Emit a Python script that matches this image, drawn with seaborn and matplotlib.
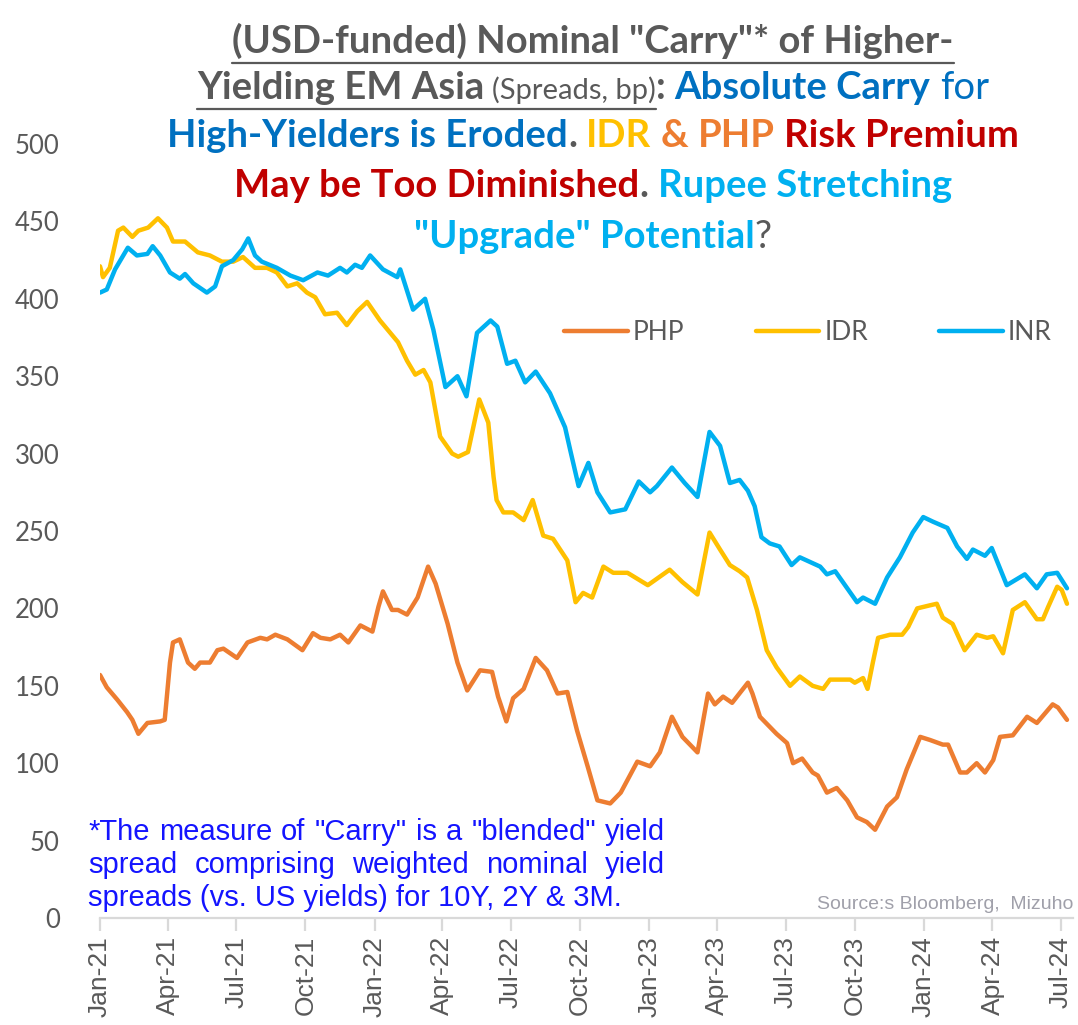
import pandas as pd
import seaborn as sns
import matplotlib.pyplot as plt
import matplotlib.dates as mdates
from matplotlib.lines import Line2D

W, H = 1078, 1025

# PHP carry (bp)
php_dates = ["2021-01-01", "2021-01-10", "2021-01-24", "2021-02-06", "2021-02-13", "2021-02-21",
             "2021-03-05", "2021-03-22", "2021-03-28", "2021-04-04", "2021-04-08", "2021-04-17",
             "2021-04-28", "2021-05-07", "2021-05-14", "2021-05-27", "2021-06-06", "2021-06-14",
             "2021-07-02", "2021-07-16", "2021-08-02", "2021-08-11", "2021-08-22", "2021-09-07",
             "2021-09-27", "2021-10-11", "2021-10-21", "2021-11-03", "2021-11-16", "2021-11-27",
             "2021-12-13", "2021-12-29", "2022-01-06", "2022-01-12", "2022-01-24", "2022-02-01",
             "2022-02-13", "2022-02-27", "2022-03-13", "2022-03-23", "2022-04-08", "2022-04-21",
             "2022-05-04", "2022-05-21", "2022-06-06", "2022-06-14", "2022-06-25", "2022-07-04",
             "2022-07-18", "2022-08-03", "2022-08-18", "2022-09-01", "2022-09-14", "2022-09-27",
             "2022-10-11", "2022-10-24", "2022-11-10", "2022-11-24", "2022-12-16", "2023-01-02",
             "2023-01-15", "2023-01-31", "2023-02-14", "2023-03-06", "2023-03-20", "2023-03-29",
             "2023-04-09", "2023-04-21", "2023-05-12", "2023-05-18", "2023-05-28", "2023-06-19",
             "2023-07-03", "2023-07-11", "2023-07-23", "2023-08-06", "2023-08-13", "2023-08-25",
             "2023-09-07", "2023-09-21", "2023-10-04", "2023-10-17", "2023-10-28", "2023-11-13",
             "2023-11-26", "2023-12-09", "2023-12-27", "2024-01-09", "2024-01-26", "2024-02-02",
             "2024-02-18", "2024-02-27", "2024-03-11", "2024-03-22", "2024-04-02", "2024-04-11",
             "2024-04-28", "2024-05-17", "2024-05-30", "2024-06-20", "2024-06-27", "2024-07-09"]
php_bp = [157, 149, 141, 133, 128, 119,
          126, 127, 128, 165, 178, 180,
          165, 161, 165, 165, 173, 174,
          168, 178, 181, 180, 183, 180,
          173, 184, 181, 180, 183, 178,
          189, 185, 201, 211, 199, 199,
          196, 207, 227, 216, 190, 165,
          147, 160, 159, 143, 127, 142,
          148, 168, 160, 145, 146, 121,
          98, 76, 74, 81, 101, 98,
          107, 130, 117, 107, 145, 138,
          143, 139, 152, 145, 130, 119,
          113, 100, 103, 94, 92, 81,
          84, 76, 65, 62, 57, 72,
          78, 96, 117, 115, 112, 112,
          94, 94, 100, 94, 102, 117,
          118, 130, 126, 138, 136, 128]

# IDR carry (bp)
idr_dates = ["2021-01-01", "2021-01-05", "2021-01-14", "2021-01-25", "2021-02-01", "2021-02-13",
             "2021-02-21", "2021-03-06", "2021-03-19", "2021-03-31", "2021-04-08", "2021-04-24",
             "2021-05-11", "2021-05-27", "2021-06-12", "2021-06-27", "2021-07-10", "2021-07-26",
             "2021-08-11", "2021-08-24", "2021-09-07", "2021-09-20", "2021-10-03", "2021-10-14",
             "2021-10-27", "2021-11-12", "2021-11-25", "2021-12-09", "2021-12-22", "2022-01-08",
             "2022-02-01", "2022-02-13", "2022-02-24", "2022-03-07", "2022-03-16", "2022-03-29",
             "2022-04-14", "2022-04-22", "2022-05-05", "2022-05-20", "2022-06-01", "2022-06-08",
             "2022-06-12", "2022-06-21", "2022-07-04", "2022-07-18", "2022-07-30", "2022-08-13",
             "2022-08-26", "2022-09-14", "2022-09-25", "2022-10-05", "2022-10-17", "2022-11-01",
             "2022-11-14", "2022-12-03", "2022-12-30", "2023-01-28", "2023-02-14", "2023-03-06",
             "2023-03-22", "2023-04-05", "2023-04-18", "2023-05-01", "2023-05-11", "2023-05-24",
             "2023-06-06", "2023-06-19", "2023-07-07", "2023-07-20", "2023-08-06", "2023-08-20",
             "2023-08-29", "2023-09-25", "2023-10-01", "2023-10-12", "2023-10-18", "2023-10-25",
             "2023-11-01", "2023-11-17", "2023-12-03", "2023-12-11", "2023-12-23", "2024-01-09",
             "2024-01-18", "2024-01-26", "2024-02-08", "2024-02-24", "2024-03-11", "2024-03-25",
             "2024-04-02", "2024-04-15", "2024-04-28", "2024-05-14", "2024-05-30", "2024-06-07",
             "2024-06-14", "2024-06-26", "2024-07-02", "2024-07-09"]
idr_bp = [421, 414, 420, 444, 446, 440,
          444, 446, 452, 446, 437, 437,
          430, 428, 424, 424, 427, 420,
          420, 417, 408, 410, 404, 401,
          390, 391, 383, 392, 398, 386,
          372, 360, 351, 354, 346, 311,
          300, 298, 301, 335, 320, 285,
          270, 262, 262, 257, 270, 247,
          245, 231, 204, 210, 207, 227,
          223, 223, 215, 225, 217, 209,
          249, 238, 228, 224, 220, 199,
          173, 162, 150, 156, 150, 148,
          154, 154, 152, 155, 148, 165,
          181, 183, 183, 188, 200, 202,
          203, 194, 190, 173, 183, 181,
          182, 171, 199, 204, 193, 193,
          201, 214, 212, 203]

# INR carry (bp)
inr_dates = ["2021-01-01", "2021-01-10", "2021-01-21", "2021-02-07", "2021-02-19", "2021-03-05",
             "2021-03-12", "2021-03-22", "2021-04-04", "2021-04-17", "2021-04-24", "2021-05-05",
             "2021-05-23", "2021-06-03", "2021-06-12", "2021-06-27", "2021-07-09", "2021-07-17",
             "2021-07-26", "2021-08-04", "2021-08-24", "2021-09-11", "2021-09-28", "2021-10-17",
             "2021-10-31", "2021-11-16", "2021-11-25", "2021-12-06", "2021-12-15", "2021-12-26",
             "2022-01-12", "2022-01-31", "2022-02-04", "2022-02-21", "2022-03-09", "2022-03-20",
             "2022-04-05", "2022-04-21", "2022-05-03", "2022-05-17", "2022-06-04", "2022-06-13",
             "2022-06-26", "2022-07-07", "2022-07-20", "2022-08-03", "2022-08-22", "2022-09-11",
             "2022-09-18", "2022-09-29", "2022-10-12", "2022-10-24", "2022-11-10", "2022-11-30",
             "2022-12-18", "2023-01-02", "2023-01-11", "2023-01-31", "2023-02-17", "2023-03-06",
             "2023-03-22", "2023-04-05", "2023-04-18", "2023-05-01", "2023-05-12", "2023-05-21",
             "2023-05-30", "2023-06-10", "2023-06-23", "2023-07-09", "2023-07-20", "2023-08-16",
             "2023-08-25", "2023-09-05", "2023-10-04", "2023-10-12", "2023-10-28", "2023-11-13",
             "2023-11-30", "2023-12-17", "2023-12-31", "2024-01-13", "2024-02-01", "2024-02-14",
             "2024-02-27", "2024-03-06", "2024-03-22", "2024-03-31", "2024-04-20", "2024-05-14",
             "2024-05-30", "2024-06-12", "2024-06-26", "2024-07-09"]
inr_bp = [404, 406, 419, 433, 428, 429,
          434, 428, 417, 413, 416, 410,
          404, 408, 421, 425, 432, 439,
          428, 424, 420, 415, 412, 417,
          415, 420, 417, 422, 420, 428,
          419, 414, 419, 393, 400, 380,
          343, 350, 337, 378, 386, 382,
          358, 360, 346, 353, 339, 317,
          302, 279, 294, 275, 262, 264,
          282, 275, 279, 291, 281, 272,
          314, 305, 281, 283, 276, 266,
          246, 242, 240, 228, 233, 227,
          222, 224, 204, 207, 203, 220,
          233, 249, 259, 256, 252, 240,
          232, 238, 234, 239, 215, 222,
          213, 222, 223, 213]

series = ["PHP", "IDR", "INR"]
colors = {"PHP": "#ED7D31", "IDR": "#FFC000", "INR": "#00B0F0"}

frames = []
for name, d, v in [("PHP", php_dates, php_bp), ("IDR", idr_dates, idr_bp), ("INR", inr_dates, inr_bp)]:
    frames.append(pd.DataFrame({"date": pd.to_datetime(d), "bp": v, "ccy": name}))
df = pd.concat(frames, ignore_index=True)

sns.set_style("white")
plt.rcParams["font.family"] = ["Lato", "DejaVu Sans"]

gray = "#595959"
fig = plt.figure(figsize=(W / 100, H / 100), dpi=100)
ax = fig.add_axes([100 / W, 1 - 918 / H, 973 / W, 774 / H])

sns.lineplot(data=df, x="date", y="bp", hue="ccy", hue_order=series, palette=colors,
             estimator=None, linewidth=3.2, legend=False, ax=ax)
for ln in ax.lines:
    ln.set_solid_joinstyle("round")
    ln.set_solid_capstyle("round")

ax.set_xlim(pd.Timestamp("2021-01-01"), pd.Timestamp("2024-07-17"))
ax.set_ylim(0, 500)
ax.set_yticks(range(0, 501, 50))
ax.xaxis.set_major_locator(mdates.MonthLocator(bymonth=[1, 4, 7, 10]))
ax.xaxis.set_major_formatter(mdates.DateFormatter("%b-%y"))
ax.set_xlabel("")
ax.set_ylabel("")

for s in ["top", "right", "left"]:
    ax.spines[s].set_visible(False)
ax.spines["bottom"].set_color("#D9D9D9")
ax.spines["bottom"].set_linewidth(1.6)

ax.tick_params(axis="x", bottom=True, direction="out", length=9, width=1.6, color="#D9D9D9",
               labelrotation=90, labelsize=19, labelcolor=gray, pad=4)
ax.tick_params(axis="y", left=False, length=0, pad=29, labelsize=18.5, labelcolor=gray)
for lab in ax.get_xticklabels():
    lab.set_family(["Liberation Sans Narrow", "Liberation Sans"])

handles = [Line2D([], [], color=colors[c], lw=3.2) for c in series]
leg = ax.legend(handles, series, loc="center", bbox_to_anchor=(0.7277, 0.756), ncol=3,
                frameon=False, handlelength=2.4, handletextpad=0.2, columnspacing=2.7,
                prop={"size": 19})
for t in leg.get_texts():
    t.set_color(gray)

renderer = fig.canvas.get_renderer()


def text_width(s, **kw):
    t = fig.text(0, 0, s, **kw)
    w = t.get_window_extent(renderer).width
    t.remove()
    return w


def rich_line(y_px, parts, cx=593):
    objs = []
    for txt, col, wt, fs, sp, ul in parts:
        t = fig.text(0, 1 - y_px / H, txt, color=col, fontweight=wt, fontsize=fs,
                     va="baseline", ha="left")
        w = t.get_window_extent(renderer).width
        gap = 0
        if sp:
            gap = text_width("a a", fontweight=wt, fontsize=fs) - text_width("aa", fontweight=wt, fontsize=fs)
        objs.append((t, w, gap, ul))
    total = sum(w + g for _, w, g, _ in objs)
    x = cx - total / 2
    ul_x0, ul_x1 = None, None
    for t, w, g, ul in objs:
        if ul and ul_x0 is None:
            ul_x0 = x
        x += g
        t.set_x(x / W)
        x += w
        if ul:
            ul_x1 = x
    if ul_x0 is not None:
        yy = 1 - (y_px + 10) / H
        fig.add_artist(Line2D([ul_x0 / W, ul_x1 / W], [yy, yy], color=gray, lw=1.6,
                              transform=fig.transFigure))


T, S = 27.5, 21
blue, gold, orange, red, lblue = "#0070C0", "#FFC000", "#ED7D31", "#C00000", "#00B0F0"
rich_line(53, [('(USD-funded) Nominal "Carry"* of Higher-', gray, "bold", T, False, True)])
rich_line(99, [("Yielding EM Asia", gray, "bold", T, False, True),
               ("(Spreads, bp)", gray, "normal", S, True, True),
               (":", gray, "bold", T, False, False),
               ("Absolute Carry", blue, "bold", T, True, False),
               ("for", blue, "normal", T, True, False)])
rich_line(147, [("High-Yielders is Eroded", blue, "bold", T, False, False),
                (".", gray, "bold", T, False, False),
                ("IDR", gold, "bold", T, True, False),
                ("&", orange, "bold", T, True, False),
                ("PHP", orange, "bold", T, True, False),
                ("Risk Premium", red, "bold", T, True, False)])
rich_line(197, [("May be Too Diminished", red, "bold", T, False, False),
                (".", gray, "bold", T, False, False),
                ("Rupee Stretching", lblue, "bold", T, True, False)])
rich_line(248, [('"Upgrade" Potential', lblue, "bold", T, False, False),
                ("?", gray, "normal", T, False, False)])

# footnote, justified like the original text box
note_lines = ['*The measure of "Carry" is a "blended" yield',
              "spread comprising weighted nominal yield",
              "spreads (vs. US yields) for 10Y, 2Y & 3M."]
note_kw = dict(fontsize=21, color="#1414FF", family=["Liberation Sans"])
for i, line in enumerate(note_lines):
    yb = 1 - (840 + 33 * i) / H
    words = line.split(" ")
    if i < len(note_lines) - 1:
        ws = [text_width(w, **note_kw) for w in words]
        gap = (665 - 88 - sum(ws)) / (len(words) - 1)
        x = 88
        for w, wd in zip(words, ws):
            fig.text(x / W, yb, w, va="baseline", ha="left", **note_kw)
            x += wd + gap
    else:
        fig.text(88 / W, yb, line, va="baseline", ha="left", **note_kw)

fig.text(1073 / W, 1 - 909 / H, "Source:s Bloomberg,  Mizuho", ha="right", va="baseline",
         fontsize=14, color="#A0A0AA", family=["Liberation Sans Narrow", "Liberation Sans"])

fig.savefig("out.png", dpi=100)
